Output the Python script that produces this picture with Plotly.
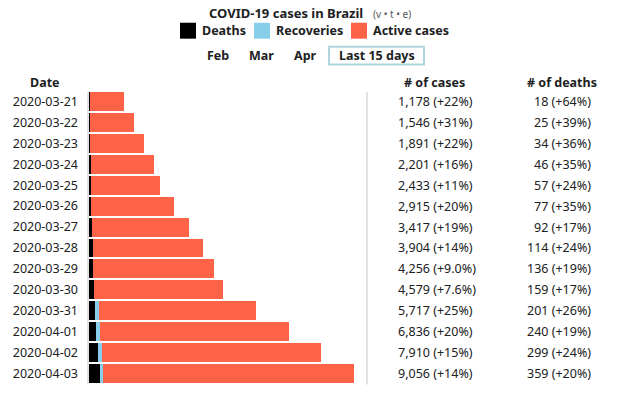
import plotly.graph_objects as go

dates = ["2020-03-21", "2020-03-22", "2020-03-23", "2020-03-24", "2020-03-25",
         "2020-03-26", "2020-03-27", "2020-03-28", "2020-03-29", "2020-03-30",
         "2020-03-31", "2020-04-01", "2020-04-02", "2020-04-03"]
cases = [1178, 1546, 1891, 2201, 2433, 2915, 3417, 3904, 4256, 4579, 5717, 6836, 7910, 9056]
cases_pct = ["+22%", "+31%", "+22%", "+16%", "+11%", "+20%", "+19%", "+14%", "+9.0%",
             "+7.6%", "+25%", "+20%", "+15%", "+14%"]
deaths = [18, 25, 34, 46, 57, 77, 92, 114, 136, 159, 201, 240, 299, 359]
deaths_pct = ["+64%", "+39%", "+36%", "+35%", "+24%", "+35%", "+17%", "+24%", "+19%",
              "+17%", "+26%", "+19%", "+24%", "+20%"]
recoveries = [0, 0, 0, 0, 0, 0, 0, 0, 0, 0, 120, 127, 127, 127]
active = [c - d - r for c, d, r in zip(cases, deaths, recoveries)]

FONT = "Noto Sans"
TXT = "#202122"

# plot area in page pixels
L, R, T, B = 88, 367, 90.5, 384.5
W, H = R - L, B - T
def px(x):
    return (x - L) / W
def py(y):
    return (B - y) / H

fig = go.Figure()
fig.add_trace(go.Bar(y=dates, x=deaths, orientation="h", name="Deaths",
                     marker=dict(color="black", line=dict(width=0))))
fig.add_trace(go.Bar(y=dates, x=recoveries, orientation="h", name="Recoveries",
                     marker=dict(color="skyblue", line=dict(width=0))))
fig.add_trace(go.Bar(y=dates, x=active, orientation="h", name="Active cases",
                     marker=dict(color="tomato", line=dict(width=0))))

ann = []
for d, c, cp, de, dp in zip(dates, cases, cases_pct, deaths, deaths_pct):
    ann.append(dict(x=px(396), y=d, xref="paper", yref="y", xanchor="left", yanchor="middle",
                    text=f"{c:,} ({cp})", showarrow=False, font=dict(family=FONT, size=12.5, color=TXT)))
    ann.append(dict(x=px(593), y=d, xref="paper", yref="y", xanchor="right", yanchor="middle",
                    text=f"{de:,} ({dp})", showarrow=False, font=dict(family=FONT, size=12.5, color=TXT)))

hdr = dict(family=FONT, size=12.5, color=TXT)
ann.append(dict(x=px(45), y=py(81.5), xref="paper", yref="paper", xanchor="center", yanchor="middle",
                text="<b>Date</b>", showarrow=False, font=hdr))
ann.append(dict(x=px(434), y=py(81.5), xref="paper", yref="paper", xanchor="center", yanchor="middle",
                text="<b># of cases</b>", showarrow=False, font=hdr))
ann.append(dict(x=px(562), y=py(81.5), xref="paper", yref="paper", xanchor="center", yanchor="middle",
                text="<b># of deaths</b>", showarrow=False, font=hdr))

ann.append(dict(x=px(286), y=py(12), xref="paper", yref="paper", xanchor="center", yanchor="middle",
                text="<b>COVID-19 cases in Brazil</b>", showarrow=False,
                font=dict(family=FONT, size=13, color=TXT)))
ann.append(dict(x=px(371), y=py(13), xref="paper", yref="paper", xanchor="left", yanchor="middle",
                text="(v • t • e)", showarrow=False, font=dict(family=FONT, size=10, color="#54595d")))

leg_items = [("Deaths", "black", 180, 200), ("Recoveries", "skyblue", 254, 274),
             ("Active cases", "tomato", 351, 371)]
shapes = []
for name, col, sx, tx in leg_items:
    shapes.append(dict(type="rect", xref="paper", yref="paper", x0=px(sx), x1=px(sx + 16),
                       y0=py(38), y1=py(22), fillcolor=col, line=dict(width=0)))
    ann.append(dict(x=px(tx), y=py(30), xref="paper", yref="paper", xanchor="left", yanchor="middle",
                    text=f"<b>{name}</b>", showarrow=False, font=dict(family=FONT, size=12.5, color=TXT)))

for lab, cx in [("Feb", 218), ("Mar", 261.5), ("Apr", 305)]:
    ann.append(dict(x=px(cx), y=py(55), xref="paper", yref="paper", xanchor="center", yanchor="middle",
                    text=f"<b>{lab}</b>", showarrow=False, font=dict(family=FONT, size=12.5, color=TXT)))
shapes.append(dict(type="rect", xref="paper", yref="paper", x0=px(329), x1=px(424),
                   y0=py(64), y1=py(46), line=dict(color="#b0d6dd", width=2), fillcolor="rgba(0,0,0,0)"))
ann.append(dict(x=px(376.5), y=py(55), xref="paper", yref="paper", xanchor="center", yanchor="middle",
                text="<b>Last 15 days</b>", showarrow=False, font=dict(family=FONT, size=12.5, color=TXT)))

for xx in (0, 1):
    shapes.append(dict(type="line", xref="paper", yref="paper", x0=xx, x1=xx, y0=py(385), y1=py(91.5),
                       line=dict(color="#cfcfcf", width=1.2)))

fig.update_layout(
    width=622, height=393,
    margin=dict(l=L, r=622 - R, t=T, b=393 - B, pad=0),
    barmode="stack", bargap=2 / 21,
    showlegend=False,
    hovermode=False,
    plot_bgcolor="white", paper_bgcolor="white",
    xaxis=dict(range=[-40, 9500], visible=False, fixedrange=True),
    yaxis=dict(autorange="reversed", type="category", showgrid=False, zeroline=False,
               showline=False, ticks="", ticklabelstandoff=9, fixedrange=True,
               tickfont=dict(family=FONT, size=12.5, color=TXT)),
    annotations=ann, shapes=shapes,
)
fig.write_html("out.html", config={"displayModeBar": False, "staticPlot": True},
               post_script="document.body.style.margin='0';document.body.style.overflow='hidden';")
